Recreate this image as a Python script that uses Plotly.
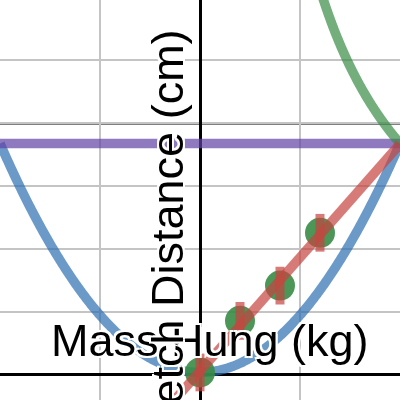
import numpy as np
import plotly.graph_objects as go

# measured points
mass_kg = [0.0, 0.2, 0.4, 0.6]
stretch_cm = [0.2, 4.3, 7.1, 11.3]
stretch_err = [1.5, 1.5, 1.5, 1.5]

# curves
parabola_a = 18.2
parabola_c = 0.2
flat_level = 18.4
hyper_k = 18.4
ref_level = 20

x_range = [-1.0, 1.0]
y_range = [-1.99, 29.8]

BLUE = "#2d70b3"
RED = "#c74440"
GREEN = "#388c46"
PURPLE = "#6042a6"
FONT = "Liberation Sans, Arial, sans-serif"
HALO = "2px 2px 0 white, -2px -2px 0 white, 2px -2px 0 white, -2px 2px 0 white"
LW = 9.5

slope, intercept = np.polyfit(mass_kg, stretch_cm, 1)

xs = np.linspace(x_range[0], x_range[1], 401)
xs_h = np.linspace(0.55, x_range[1], 300)

fig = go.Figure()

# parabola
fig.add_trace(go.Scatter(
    x=xs, y=parabola_a * xs ** 2 + parabola_c, mode="lines",
    line=dict(color=BLUE, width=LW, simplify=False), opacity=0.7, hoverinfo="skip",
))
# flat line
fig.add_trace(go.Scatter(
    x=x_range, y=[flat_level, flat_level], mode="lines",
    line=dict(color=PURPLE, width=LW), opacity=0.7, hoverinfo="skip",
))
# hyperbola
fig.add_trace(go.Scatter(
    x=xs_h, y=hyper_k / xs_h, mode="lines",
    line=dict(color=GREEN, width=LW, simplify=False), opacity=0.7, hoverinfo="skip",
))
# data points
fig.add_trace(go.Scatter(
    x=mass_kg, y=stretch_cm, mode="markers",
    marker=dict(color=GREEN, size=30, line=dict(width=0)), opacity=0.9,
))
# fit line
fig.add_trace(go.Scatter(
    x=x_range, y=[slope * x + intercept for x in x_range], mode="lines",
    line=dict(color=RED, width=LW), opacity=0.7, hoverinfo="skip",
))
# error bars
fig.add_trace(go.Scatter(
    x=mass_kg, y=stretch_cm, mode="markers",
    marker=dict(size=1, opacity=0),
    error_y=dict(type="data", array=stretch_err, color=RED, thickness=9, width=0),
    opacity=0.7,
))

fig.add_shape(
    type="line", xref="paper", x0=0, x1=1, yref="y", y0=ref_level, y1=ref_level,
    line=dict(color="black", width=2.5), layer="between",
)

fig.add_annotation(
    text="Mass Hung (kg)", xref="paper", yref="paper", x=0.525, y=0.15,
    showarrow=False, xanchor="center", yanchor="middle",
    font=dict(family=FONT, size=45, color="black", shadow=HALO),
)
fig.add_annotation(
    text="Stretch Distance (cm)", xref="paper", yref="paper", x=0.4175, y=0.385,
    showarrow=False, textangle=-90, xanchor="center", yanchor="middle",
    font=dict(family=FONT, size=45, color="black", shadow=HALO),
)

axis_common = dict(
    showgrid=True, gridcolor="#c4c4c4", gridwidth=2,
    zeroline=True, zerolinecolor="black", zerolinewidth=3,
    showticklabels=False, ticks="", showline=False, fixedrange=True,
)

fig.update_layout(
    width=400,
    height=400,
    margin=dict(l=0, r=0, t=0, b=0),
    paper_bgcolor="white",
    plot_bgcolor="white",
    showlegend=False,
    xaxis=dict(range=x_range, dtick=0.5, tick0=0, **axis_common),
    yaxis=dict(range=y_range, dtick=5, tick0=0, **axis_common),
)

fig.write_html(
    "out.html",
    config={"displayModeBar": False},
    post_script="document.body.style.margin='0';",
)
